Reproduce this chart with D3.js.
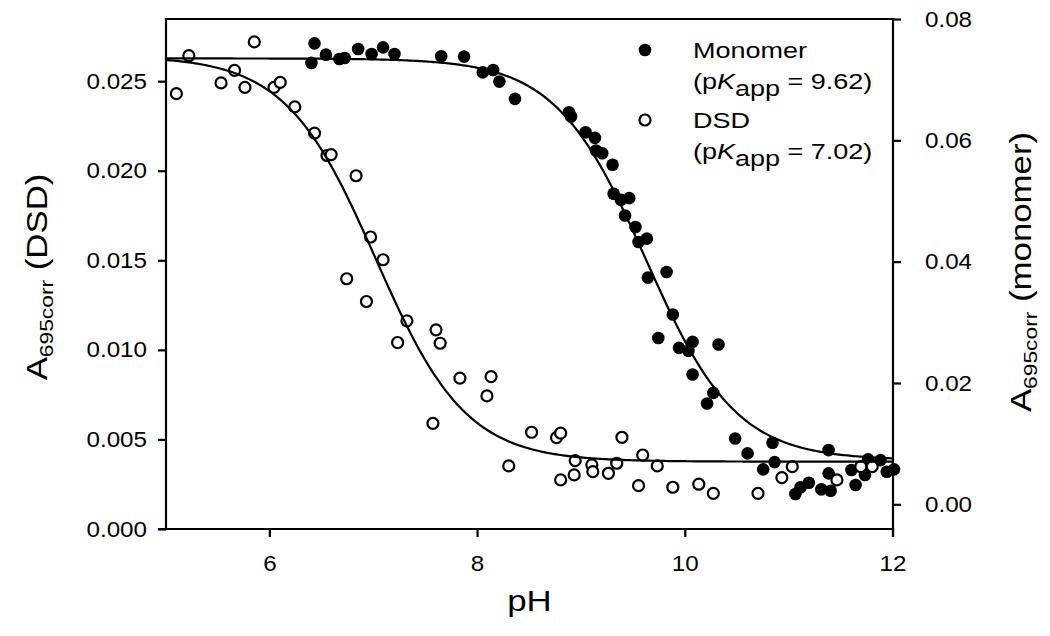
<!DOCTYPE html>
<html>
<head>
<meta charset="utf-8">
<script src="https://cdn.jsdelivr.net/npm/d3@7"></script>
<style>
  html, body { margin: 0; padding: 0; background: #fff; }
  svg { display: block; }
  text { font-family: "Liberation Sans", Arial, sans-serif; fill: #000; }
</style>
</head>
<body>
<svg id="chart" width="1050" height="636"></svg>
<script>
// ---------- data ----------
// DSD (open circles, left axis)
const dsdPH = [5.10, 5.22, 5.53, 5.66, 5.76, 5.85, 6.04, 6.10, 6.24, 6.43, 6.55, 6.59, 6.83, 6.97, 7.09,
  6.74, 6.93, 7.32, 7.23, 7.60, 7.64, 7.83, 7.57, 8.13, 8.09, 8.30, 8.52, 8.76, 8.80, 8.94, 8.93, 8.80,
  9.10, 9.11, 9.26, 9.34, 9.39, 9.59, 9.55, 9.73, 9.88, 10.13, 10.27, 10.70, 10.93, 11.03, 11.46, 11.69, 11.80];
const dsdA = [0.02430, 0.02642, 0.02490, 0.02560, 0.02465, 0.02719, 0.02465, 0.02493, 0.02356, 0.02210,
  0.02085, 0.02090, 0.01972, 0.01630, 0.01503, 0.01397, 0.01270, 0.01162, 0.01041, 0.01112, 0.01037,
  0.00842, 0.00590, 0.00851, 0.00743, 0.00352, 0.00540, 0.00510, 0.00535, 0.00382, 0.00302, 0.00274,
  0.00358, 0.00320, 0.00311, 0.00367, 0.00512, 0.00413, 0.00242, 0.00352, 0.00233, 0.00250, 0.00199,
  0.00199, 0.00287, 0.00348, 0.00274, 0.00348, 0.00348];

// Monomer (filled circles, right axis)
const monoPH = [6.40, 6.43, 6.54, 6.67, 6.72, 6.85, 6.98, 7.09, 7.20, 7.65, 7.87, 8.05, 8.15, 8.21, 8.36,
  8.88, 8.90, 9.04, 9.13, 9.14, 9.20, 9.30, 9.31, 9.38, 9.46, 9.42, 9.52, 9.55, 9.63, 9.64, 9.82, 9.88,
  9.74, 9.94, 10.03, 10.07, 10.07, 10.32, 10.27, 10.21, 10.48, 10.60, 10.84, 10.75, 10.86, 11.06, 11.11,
  11.19, 11.31, 11.40, 11.38, 11.38, 11.60, 11.64, 11.73, 11.76, 11.88, 11.94, 12.01];
const monoA = [0.07276, 0.07598, 0.07412, 0.07340, 0.07358, 0.07506, 0.07424, 0.07533, 0.07424, 0.07385,
  0.07380, 0.07120, 0.07160, 0.06968, 0.06683, 0.06463, 0.06392, 0.06134, 0.06041, 0.05832, 0.05788,
  0.05597, 0.05120, 0.05020, 0.05047, 0.04760, 0.04570, 0.04323, 0.04380, 0.03737, 0.03830, 0.03128,
  0.02742, 0.02578, 0.02530, 0.02677, 0.02140, 0.02634, 0.01837, 0.01662, 0.01086, 0.00839, 0.01014,
  0.00576, 0.00696, 0.00170, 0.00280, 0.00356, 0.00247, 0.00224, 0.00894, 0.00510, 0.00565, 0.00318,
  0.00482, 0.00741, 0.00729, 0.00537, 0.00576];

// Fitted curve parameters (Henderson–Hasselbalch fits, pKapp from legend)
const dsdFit = [0.0264, 0.00376, 7.02];   // top, bottom, pK
const monoFit = [0.0735, 0.0073, 9.62];   // top, bottom, pK

const xTicks = [6, 8, 10, 12];
const yLeftTicks = [0.000, 0.005, 0.010, 0.015, 0.020, 0.025];
const yRightTicks = [0.00, 0.02, 0.04, 0.06, 0.08];
const legendLabels = ["Monomer", "DSD"];
const legendPK = ["9.62", "7.02"];

// ---------- layout ----------
const L = 166, R = 893, T = 19, B = 529;
const SX = 1.2;   // horizontal stretch of legend / title text
const TSX = 1.1;  // horizontal stretch of tick labels

const svg = d3.select("#chart");
const x = d3.scaleLinear().domain([5, 12]).range([L, R]);
const yL = d3.scaleLinear().domain([0, 0.02847]).range([B, T]);
const yR = d3.scaleLinear().domain([-0.00407, 0.08]).range([B, T]);

function hh(p, f) { return f[1] + (f[0] - f[1]) / (1 + Math.pow(10, p - f[2])); }
const curveX = d3.range(5, 12.0001, 0.02);

// ---------- points ----------
const monoData = monoPH.map((p, i) => ({ p, v: monoA[i] }));
const dsdData = dsdPH.map((p, i) => ({ p, v: dsdA[i] }));

svg.append("g").selectAll("circle").data(monoData).join("circle")
  .attr("cx", d => x(d.p)).attr("cy", d => yR(d.v)).attr("r", 6.3)
  .attr("fill", "#000");

svg.append("g").selectAll("circle").data(dsdData).join("circle")
  .attr("cx", d => x(d.p)).attr("cy", d => yL(d.v)).attr("r", 5.5)
  .attr("fill", "#fff").attr("stroke", "#000").attr("stroke-width", 2.2);

// ---------- fit curves ----------
const lineL = d3.line().x(p => x(p)).y(p => yL(hh(p, dsdFit)));
const lineR = d3.line().x(p => x(p)).y(p => yR(hh(p, monoFit)));
svg.append("path").attr("d", lineL(curveX)).attr("fill", "none").attr("stroke", "#000").attr("stroke-width", 2.2);
svg.append("path").attr("d", lineR(curveX)).attr("fill", "none").attr("stroke", "#000").attr("stroke-width", 2.2);

// ---------- axes ----------
const axStroke = 2.2;
const gL = svg.append("g").attr("transform", `translate(${L},0)`)
  .call(d3.axisLeft(yL).tickValues(yLeftTicks).tickSize(8).tickSizeOuter(0).tickFormat(d3.format(".3f")));
gL.selectAll("text").attr("x", -19 / TSX).attr("transform", `scale(${TSX},1)`);

const gR = svg.append("g").attr("transform", `translate(${R},0)`)
  .call(d3.axisRight(yR).tickValues(yRightTicks).tickSize(8).tickSizeOuter(0).tickFormat(d3.format(".2f")));
gR.selectAll("text").attr("x", 32 / TSX).attr("transform", `scale(${TSX},1)`);

const gB = svg.append("g").attr("transform", `translate(0,${B})`)
  .call(d3.axisBottom(x).tickValues(xTicks).tickSize(8).tickSizeOuter(0).tickFormat(d3.format("d")));
gB.selectAll("text").attr("y", 26).attr("x", 0).attr("transform", `scale(${TSX},1)`);
gB.selectAll(".tick").attr("transform", d => `translate(${x(d)},0)`);

[gL, gR, gB].forEach(g => {
  g.select(".domain").remove();
  g.selectAll("line").attr("stroke", "#000").attr("stroke-width", axStroke);
  g.selectAll("text").attr("font-size", 22).attr("font-family", "Liberation Sans, Arial, sans-serif").attr("fill", "#000");
});

// frame lines
const frame = svg.append("g").attr("stroke", "#000").attr("stroke-width", axStroke).attr("stroke-linecap", "square");
frame.append("line").attr("x1", L).attr("x2", L).attr("y1", T).attr("y2", B);
frame.append("line").attr("x1", L).attr("x2", R).attr("y1", T).attr("y2", T);
frame.append("line").attr("x1", L - 7).attr("x2", R).attr("y1", B).attr("y2", B);
frame.append("line").attr("x1", R).attr("x2", R).attr("y1", T).attr("y2", B + 7);

// ---------- axis titles ----------
svg.append("text").attr("x", 0).attr("y", 0)
  .attr("transform", `translate(${(L + R) / 2},611) scale(${SX},1)`)
  .attr("text-anchor", "middle").attr("font-size", 29).text("pH");

function yTitle(xpos, ypos, tail) {
  const t = svg.append("text")
    .attr("transform", `translate(${xpos},${ypos}) rotate(-90) scale(${SX},1)`)
    .attr("text-anchor", "middle").attr("font-size", 29);
  t.append("tspan").text("A");
  t.append("tspan").attr("font-size", 19).attr("dy", 6).text("695corr");
  t.append("tspan").attr("dy", -6).text(" " + tail);
}
yTitle(47, 277, "(DSD)");
yTitle(1031, 272, "(monomer)");

// ---------- legend ----------
const legY = [50, 120];
const lg = svg.append("g");
lg.append("circle").attr("cx", 645).attr("cy", legY[0]).attr("r", 6.3).attr("fill", "#000");
lg.append("circle").attr("cx", 645).attr("cy", legY[1]).attr("r", 5.5).attr("fill", "#fff")
  .attr("stroke", "#000").attr("stroke-width", 2.2);
legendLabels.forEach((lab, i) => {
  const y0 = legY[i] + 8;
  lg.append("text").attr("transform", `translate(693,${y0}) scale(${SX},1)`)
    .attr("font-size", 22.5).text(lab);
  const t = lg.append("text").attr("transform", `translate(693,${y0 + 31}) scale(${SX},1)`)
    .attr("font-size", 22.5);
  t.append("tspan").text("(p");
  t.append("tspan").attr("font-style", "italic").text("K");
  t.append("tspan").attr("dy", 7).text("app");
  t.append("tspan").attr("dy", -7).text(" = " + legendPK[i] + ")");
});
</script>
</body>
</html>
